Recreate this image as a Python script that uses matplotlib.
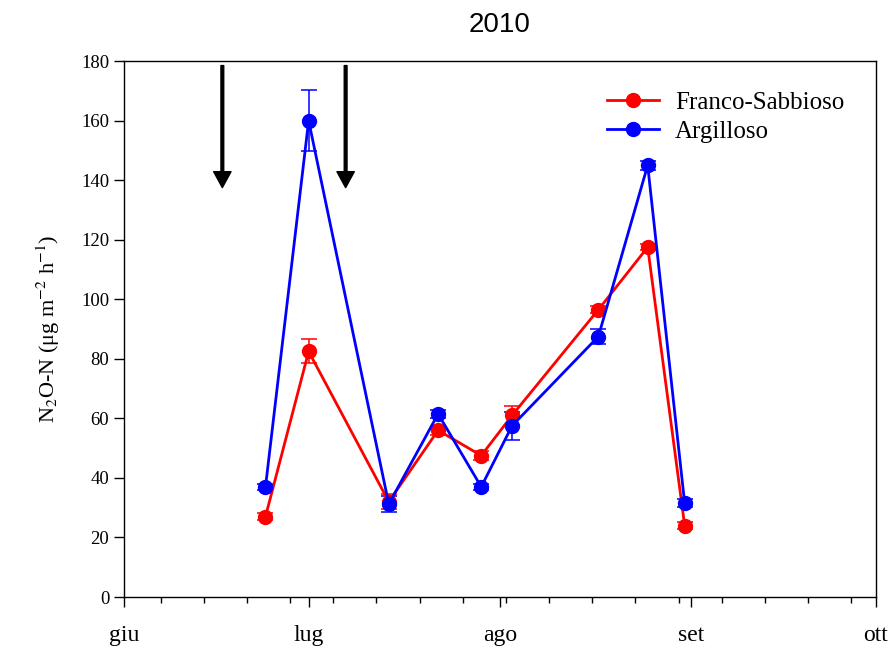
import datetime as dt
import numpy as np
import matplotlib.pyplot as plt
import matplotlib.dates as mdates

# Sampling dates (2010)
dates = [dt.date(2010, 6, 24), dt.date(2010, 7, 1), dt.date(2010, 7, 14),
         dt.date(2010, 7, 22), dt.date(2010, 7, 29), dt.date(2010, 8, 3),
         dt.date(2010, 8, 17), dt.date(2010, 8, 25), dt.date(2010, 8, 31)]

# N2O-N fluxes (ug m-2 h-1) and standard errors
franco_sabbioso = [27, 82.5, 32, 56, 47.5, 61, 96.5, 117.5, 24]
franco_sabbioso_err = [1.2, 4.0, 2.5, 1.5, 1.5, 3.3, 1.2, 1.0, 1.3]
argilloso = [37, 160, 31.2, 61.5, 37, 57.5, 87.5, 145, 31.5]
argilloso_err = [1.0, 10.3, 2.8, 1.3, 1.0, 4.8, 2.6, 1.5, 1.3]

# Fertilization dates marked by arrows
arrow_dates = [dt.date(2010, 6, 17), dt.date(2010, 7, 7)]

month_names = ['giu', 'lug', 'ago', 'set', 'ott']

plt.rcParams['font.family'] = ['Liberation Serif', 'DejaVu Serif']
plt.rcParams['mathtext.fontset'] = 'stix'

fig = plt.figure(figsize=(8.9, 6.5), dpi=100)
ax = fig.add_axes([0.139, 0.0815, 0.845, 0.8245])

eb1 = ax.errorbar(dates, franco_sabbioso, yerr=franco_sabbioso_err,
                  color='#ff0000', marker='o', markersize=10, lw=2,
                  elinewidth=1.1, capsize=5.5, capthick=1.1)
eb2 = ax.errorbar(dates, argilloso, yerr=argilloso_err,
                  color='#0000ff', marker='o', markersize=10, lw=2,
                  elinewidth=1.1, capsize=5.5, capthick=1.1)

for d in arrow_dates:
    ax.annotate('', xy=(d, 137.5), xytext=(d, 178.5),
                arrowprops=dict(width=2.0, headwidth=12.5, headlength=11.5,
                                shrink=0, color='black'))

ax.set_xlim(dt.date(2010, 6, 1), dt.date(2010, 10, 1))
ax.set_ylim(0, 180)
ax.set_yticks(np.arange(0, 181, 20))

months = [dt.date(2010, m, 1) for m in range(6, 11)]
ax.set_xticks(months)
ax.set_xticklabels(month_names)
ax.xaxis.set_minor_locator(mdates.WeekdayLocator(byweekday=mdates.MO))

ax.tick_params(axis='both', which='major', direction='out', length=7,
               width=1, labelsize=13.5)
ax.tick_params(axis='x', which='major', labelsize=17, pad=13)
ax.tick_params(axis='x', which='minor', direction='out', length=4, width=1)
for s in ax.spines.values():
    s.set_linewidth(1)

ax.set_ylabel('N$_2$O-N (μg m$^{-2}$ h$^{-1}$)', fontsize=16, labelpad=14)
ax.set_title('2010', fontsize=20, family='Liberation Sans', pad=21)

ax.legend([eb1[0], eb2[0]], ['Franco-Sabbioso', 'Argilloso'],
          loc='upper left', bbox_to_anchor=(0.642, 0.943), frameon=False,
          borderpad=0, borderaxespad=0, fontsize=18, handlelength=2.1,
          labelspacing=0.25, handletextpad=0.64)

fig.savefig('out.png', dpi=100)
